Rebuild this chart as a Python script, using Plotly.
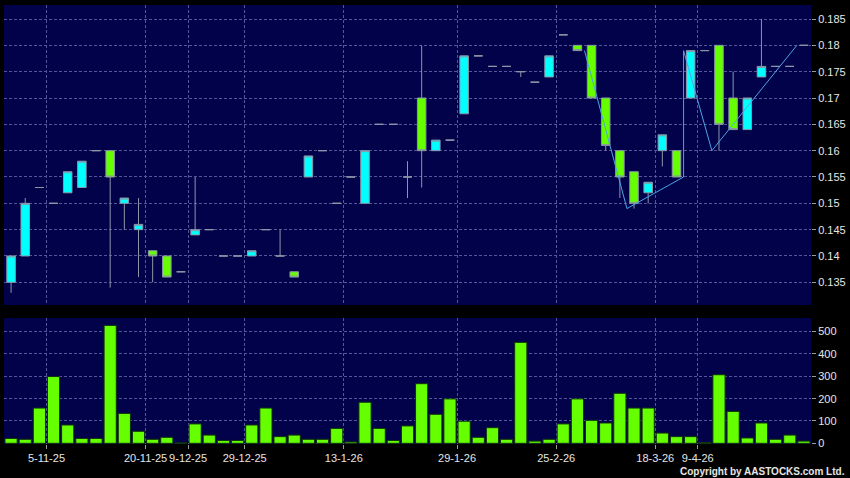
import plotly.graph_objects as go

# ---- data ----
opens  = [0.135,0.140,0.153,0.150,0.152,0.153,0.160,0.160,0.150,0.145,
          0.141,0.140,0.137,0.144,0.145,0.140,0.140,0.140,0.145,0.140,
          0.137,0.155,0.160,0.150,0.155,0.150,0.165,0.165,0.155,0.170,
          0.160,0.162,0.167,0.178,0.176,0.176,0.175,0.173,0.174,0.182,
          0.180,0.180,0.170,0.160,0.156,0.152,0.160,0.160,0.170,0.179,
          0.180,0.170,0.164,0.174,0.176,0.176,0.180]
highs  = [0.140,0.151,0.153,0.150,0.156,0.158,0.160,0.160,0.151,0.151,
          0.141,0.140,0.137,0.155,0.145,0.140,0.140,0.141,0.145,0.145,
          0.137,0.159,0.160,0.150,0.155,0.160,0.165,0.165,0.158,0.180,
          0.162,0.162,0.178,0.178,0.176,0.176,0.175,0.173,0.178,0.182,
          0.180,0.180,0.170,0.160,0.156,0.154,0.163,0.160,0.179,0.179,
          0.180,0.175,0.170,0.185,0.176,0.176,0.180]
lows   = [0.133,0.140,0.153,0.150,0.152,0.153,0.160,0.134,0.145,0.136,
          0.135,0.136,0.137,0.144,0.145,0.140,0.140,0.140,0.145,0.140,
          0.136,0.155,0.160,0.150,0.155,0.150,0.165,0.165,0.151,0.153,
          0.160,0.162,0.167,0.178,0.176,0.176,0.174,0.173,0.174,0.182,
          0.179,0.170,0.160,0.151,0.149,0.150,0.157,0.155,0.170,0.179,
          0.160,0.164,0.164,0.174,0.176,0.176,0.180]
closes = [0.140,0.150,0.153,0.150,0.156,0.158,0.160,0.155,0.151,0.146,
          0.140,0.136,0.137,0.145,0.145,0.140,0.140,0.141,0.145,0.140,
          0.136,0.159,0.160,0.150,0.155,0.160,0.165,0.165,0.155,0.160,
          0.162,0.162,0.178,0.178,0.176,0.176,0.175,0.173,0.178,0.182,
          0.179,0.170,0.161,0.155,0.150,0.154,0.163,0.155,0.179,0.179,
          0.165,0.164,0.170,0.176,0.176,0.176,0.180]
volumes = [22,18,158,299,82,22,22,528,134,54,
           18,27,2,87,37,13,13,82,158,30,
           37,18,18,67,6,184,67,13,78,267,
           130,199,99,27,70,18,452,10,18,87,
           199,103,91,224,158,158,46,30,30,4,
           307,143,24,91,18,37,10]

# zig-zag overlay (position on the bar index axis, price)
zz_x = [40.5, 43.5, 47.5, 47.5, 49.5, 55.5]
zz_y = [0.179, 0.149, 0.155, 0.179, 0.160, 0.180]

# date labels, placed at the boundary after the given bar index
tick_index  = [2, 9, 12, 16, 23, 31, 38, 45, 48]
tick_labels = ["5-11-25", "20-11-25", "9-12-25", "29-12-25", "13-1-26",
               "29-1-26", "25-2-26", "18-3-26", "9-4-26"]

price_ticks = [0.135, 0.14, 0.145, 0.15, 0.155, 0.16, 0.165, 0.17, 0.175, 0.18, 0.185]
price_tick_text = ["0.135", "0.14", "0.145", "0.15", "0.155", "0.16", "0.165",
                   "0.17", "0.175", "0.18", "0.185"]
vol_ticks = [0, 100, 200, 300, 400, 500]

idx = list(range(len(opens)))
tick_pos = [t + 0.5 for t in tick_index]

GRID = "#55559a"
TXT = "#e6e6e6"
FONT = "Liberation Sans, Arial, sans-serif"
DASH = "3px,2px"

fig = go.Figure()

fig.add_trace(go.Candlestick(
    x=idx, open=opens, high=highs, low=lows, close=closes,
    increasing=dict(fillcolor="#00ffff", line=dict(color="#8c96a8", width=1)),
    decreasing=dict(fillcolor="#66ff00", line=dict(color="#8c96a8", width=1)),
    whiskerwidth=0, xaxis="x", yaxis="y", showlegend=False, hoverinfo="skip",
))

fig.add_trace(go.Scatter(
    x=zz_x, y=zz_y, mode="lines", line=dict(color="#4fa3e6", width=1),
    xaxis="x", yaxis="y", showlegend=False, hoverinfo="skip",
))

fig.add_trace(go.Bar(
    x=idx, y=volumes, marker=dict(color="#66ff00", line=dict(color="#0e300e", width=1)),
    xaxis="x2", yaxis="y2", showlegend=False, hoverinfo="skip",
))

xr = [-0.5, len(opens) - 0.5]

fig.update_layout(
    width=850, height=478,
    margin=dict(l=4, r=39, t=5, b=34, autoexpand=False),
    paper_bgcolor="#000000",
    plot_bgcolor="#02024a",
    boxgap=0.14,
    bargap=0.14,
    font=dict(family=FONT, size=11, color=TXT),
    xaxis=dict(domain=[0, 1], anchor="y", range=xr, rangeslider=dict(visible=False),
               tickvals=tick_pos, showticklabels=False, ticks="", automargin=False,
               showgrid=True, gridcolor=GRID, griddash=DASH, gridwidth=1,
               zeroline=False, showline=False, fixedrange=True),
    yaxis=dict(domain=[0.3166, 1], anchor="x", side="right", range=[0.13069, 0.18766],
               tickvals=price_ticks, ticktext=price_tick_text, automargin=False,
               ticks="outside", ticklen=4, tickcolor="#9a9a9a",
               showgrid=True, gridcolor=GRID, griddash=DASH, gridwidth=1,
               zeroline=False, showline=False, tickfont=dict(size=11, color=TXT)),
    xaxis2=dict(domain=[0, 1], anchor="y2", range=xr, automargin=False,
                tickvals=tick_pos, ticktext=tick_labels,
                ticks="outside", ticklen=4, tickcolor="#9a9a9a",
                showgrid=True, gridcolor=GRID, griddash=DASH, gridwidth=1,
                zeroline=False, showline=False, tickangle=0,
                tickfont=dict(size=11, color=TXT)),
    yaxis2=dict(domain=[0, 0.287], anchor="x2", side="right", range=[-3, 561],
                tickvals=vol_ticks, ticks="outside", ticklen=4, tickcolor="#9a9a9a",
                automargin=False,
                showgrid=True, gridcolor=GRID, griddash=DASH, gridwidth=1,
                zeroline=False, showline=False, tickfont=dict(size=11, color=TXT)),
    annotations=[dict(text="<b>Copyright by AASTOCKS.com Ltd.</b>", xref="paper", yref="paper",
                      x=1.0, y=0, xanchor="right", yanchor="top", yshift=-20, xshift=36,
                      showarrow=False, font=dict(size=10, color=TXT, family=FONT))],
)

fig.write_html("out.html", config={"displayModeBar": False},
               post_script="document.body.style.margin='0';document.body.style.padding='0';")
